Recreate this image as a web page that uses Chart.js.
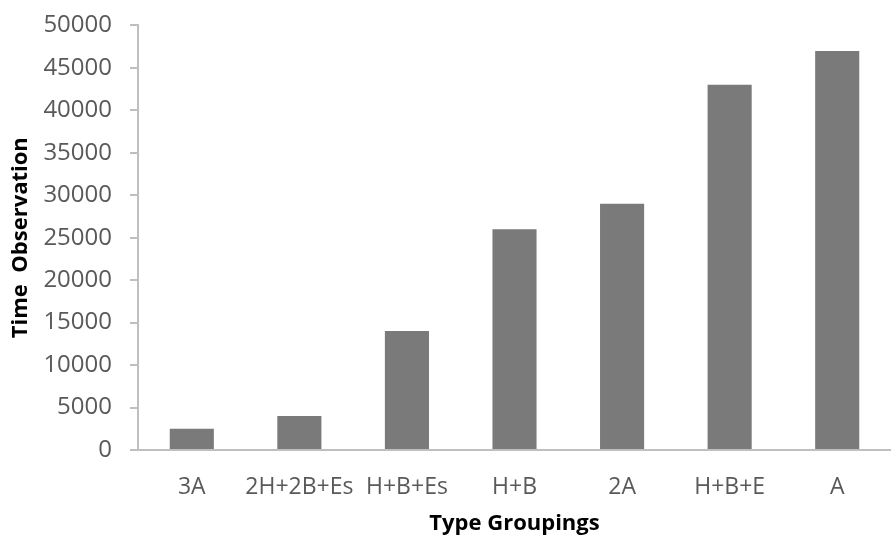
<!DOCTYPE html>
<html>
<head>
<meta charset="utf-8">
<script src="https://cdn.jsdelivr.net/npm/chart.js@4/dist/chart.umd.min.js"></script>
<style>
  html, body { margin: 0; padding: 0; background: #fff; }
  #wrap { width: 891px; height: 537px; }
</style>
</head>
<body>
<div id="wrap"><canvas id="barChart" width="891" height="537"></canvas></div>
<script>
const categories = ["3A", "2H+2B+Es", "H+B+Es", "H+B", "2A", "H+B+E", "A"];
const timeObs = [2500, 4000, 14000, 26000, 29000, 43000, 47000];
const yTicks = [0, 5000, 10000, 15000, 20000, 25000, 30000, 35000, 40000, 45000, 50000];

const ctx = document.getElementById("barChart").getContext("2d");
const axisGrey = "#bfbfbf";
const textGrey = "#595959";

// chart.js counts tick padding twice when sizing an axis (and adds it on top), take it back
const X_PAD = 24;
const Y_PAD = 18;

const chart = new Chart(ctx, {
    type: "bar",
    data: {
        labels: categories,
        datasets: [
            {
                label: "Time Observation",
                backgroundColor: "#7a7a7a",
                data: timeObs,
                barPercentage: 0.41,
                categoryPercentage: 1.0
            }
        ]
    },
    options: {
        responsive: false,
        animation: false,
        layout: { padding: { top: 0, right: 0, left: 0, bottom: 0 } },
        plugins: {
            legend: { display: false },
            tooltip: { enabled: false }
        },
        scales: {
            x: {
                afterFit: axis => { axis.height -= X_PAD; },
                grid: { display: false, drawTicks: false },
                border: { color: axisGrey, width: 2 },
                ticks: {
                    color: textGrey,
                    padding: X_PAD,
                    maxRotation: 0,
                    autoSkip: false,
                    font: { family: "'Open Sans'", size: 23 }
                },
                title: {
                    display: true,
                    text: "Type Groupings",
                    color: "#000",
                    padding: { top: 9, bottom: 0 },
                    font: { family: "'Open Sans'", size: 22, weight: "bold" }
                }
            },
            y: {
                min: 0,
                max: 50000,
                afterBuildTicks: axis => {
                    axis.ticks = yTicks.map(v => ({ value: v }));
                },
                afterFit: axis => {
                    axis.width -= Y_PAD;
                    axis.paddingTop -= 7;
                },
                grid: {
                    drawOnChartArea: false,
                    color: axisGrey,
                    tickLength: 8,
                    lineWidth: 2
                },
                border: { color: axisGrey, width: 2 },
                ticks: {
                    color: textGrey,
                    padding: Y_PAD,
                    callback: v => String(v),
                    font: { family: "'Open Sans'", size: 24 }
                },
                title: {
                    display: true,
                    text: "Time  Observation",
                    color: "#000",
                    padding: { top: 8, bottom: 9 },
                    font: { family: "'Open Sans'", size: 22, weight: "bold" }
                }
            }
        }
    }
});
</script>
</body>
</html>
